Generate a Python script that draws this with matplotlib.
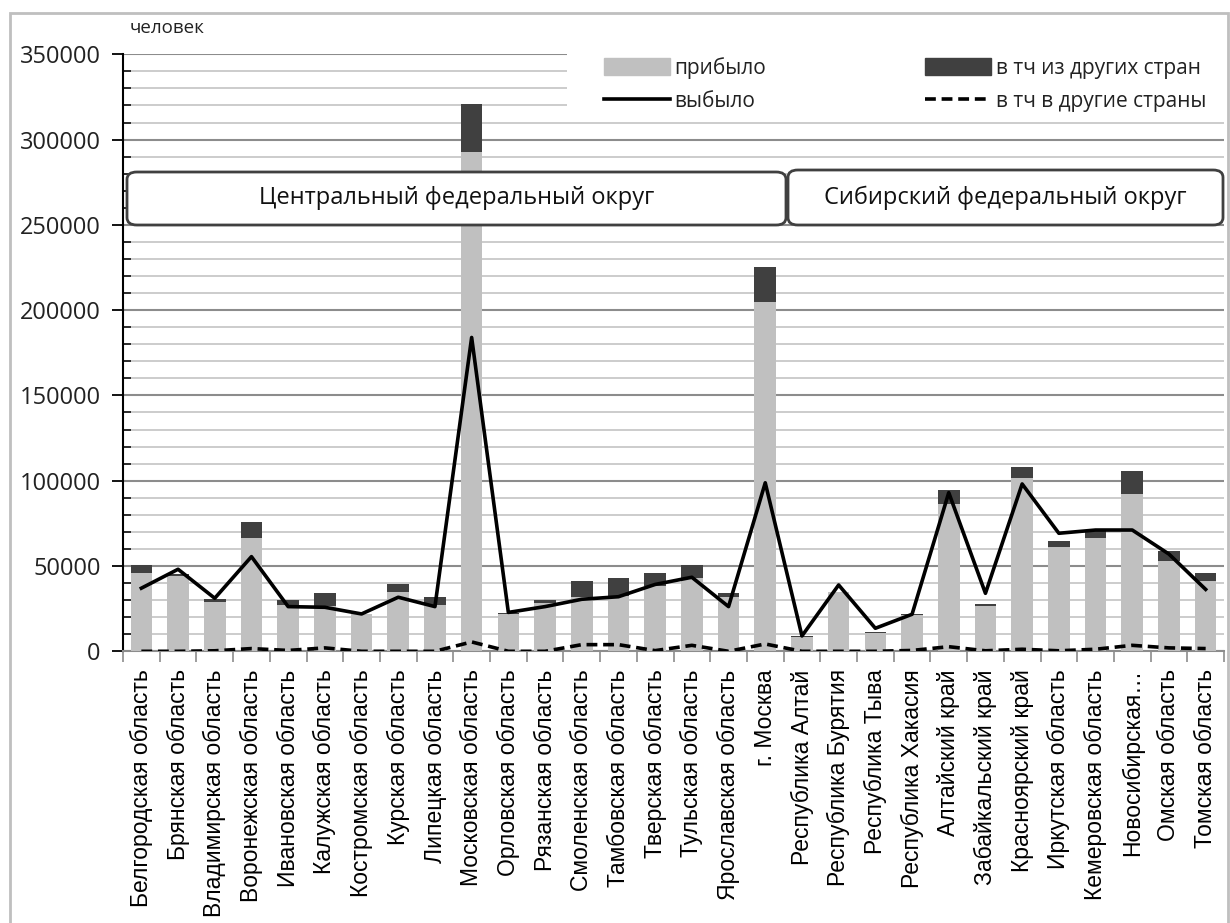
"""
Migration by region: arrived (stacked with the part from other countries),
departed (solid) and departed abroad (dashed), Central and Siberian okrugs.
"""
import numpy as np
import matplotlib
matplotlib.use("Agg")
import matplotlib.pyplot as plt
import matplotlib.patches as mpatches
import matplotlib.lines as mlines
import matplotlib.ticker as mticker

regions = [
    "Белгородская область", "Брянская область", "Владимирская область",
    "Воронежская область", "Ивановская область", "Калужская область",
    "Костромская область", "Курская область", "Липецкая область",
    "Московская область", "Орловская область", "Рязанская область",
    "Смоленская область", "Тамбовская область", "Тверская область",
    "Тульская область", "Ярославская область", "г. Москва",
    "Республика Алтай", "Республика Бурятия", "Республика Тыва",
    "Республика Хакасия", "Алтайский край", "Забайкальский край",
    "Красноярский край", "Иркутская область", "Кемеровская область",
    "Новосибирская…", "Омская область", "Томская область",
]
arrived = [46000, 44000, 29100, 66400, 27100, 26700, 21900, 34900, 27300,
           292700, 21900, 28100, 32000, 32400, 38200, 42800, 31800, 204800,
           8500, 35000, 10500, 21300, 86400, 26600, 101600, 61100, 66600,
           92200, 53100, 41400]
from_abroad = [4600, 1500, 1600, 9400, 3000, 7500, 0, 4600, 4500,
               28200, 300, 2000, 9200, 10800, 7900, 7800, 2400, 20500,
               500, 0, 700, 600, 8200, 1000, 6400, 3600, 4100,
               13500, 5700, 4700]
departed = [37000, 48100, 31100, 55500, 26200, 25800, 21900, 31700, 26200,
            184000, 22800, 26200, 30500, 32000, 39200, 43400, 26200, 98800,
            9000, 38900, 13500, 21700, 93000, 34000, 98100, 69200, 71100,
            71100, 57000, 36300]
departed_abroad = [0, 0, 300, 1600, 500, 2000, 0, 0, 0, 5500, 0, 0, 3900,
                   3900, 400, 3500, 0, 4300, 0, 0, 0, 500, 2700, 300, 1200,
                   300, 1200, 3500, 2000, 1600]
okrugs = ["Центральный федеральный округ", "Сибирский федеральный округ"]

W, H = 1230, 923
font = ["Open Sans", "DejaVu Sans"]
cat_font = ["Liberation Sans", "DejaVu Sans"]
light, dark = "#c0c0c0", "#404040"

fig = plt.figure(figsize=(W / 100, H / 100), dpi=100)
ax = fig.add_axes([123 / W, 1 - 651.3 / H, (1224 - 123) / W, (651.3 - 54.3) / H])

x = np.arange(len(regions))
ax.bar(x, arrived, width=0.59, color=light, zorder=3)
ax.bar(x, from_abroad, width=0.59, bottom=arrived, color=dark, zorder=3)
ax.plot(x, departed, color="black", lw=2.6, zorder=4)
ax.plot(x, departed_abroad, color="black", lw=2.6, dashes=(3, 1.6), zorder=4)

ax.set_xlim(-0.5, len(regions) - 0.5)
ax.set_ylim(0, 350000)
ax.yaxis.set_major_locator(mticker.MultipleLocator(50000))
ax.yaxis.set_minor_locator(mticker.MultipleLocator(10000))
ax.yaxis.set_major_formatter(mticker.FuncFormatter(lambda v, p: f"{int(v)}"))
ax.grid(which="minor", axis="y", color="#c4c4c4", lw=1.2, zorder=0)
ax.grid(which="major", axis="y", color="#8c8c8c", lw=1.5, zorder=0)
ax.tick_params(axis="y", which="major", direction="out", length=8, width=1.3,
               pad=8, labelsize=17)
ax.tick_params(axis="y", which="minor", direction="in", length=6, width=1.1)
for lab in ax.get_yticklabels():
    lab.set_family(font)
    lab.set_color("#222222")

ax.set_xticks(x)
ax.set_xticklabels(regions, rotation=90, family=cat_font, fontsize=16.5,
                   va="top", ha="center")
ax.set_xticks(np.arange(-0.5, len(regions)), minor=True)
ax.tick_params(axis="x", which="major", length=0, pad=13)
ax.tick_params(axis="x", which="minor", direction="out", length=8,
               width=1.2, color="#8c8c8c")

for s in ["top", "right"]:
    ax.spines[s].set_visible(False)
ax.spines["left"].set_linewidth(1.5)
ax.spines["bottom"].set_color("#8c8c8c")
ax.spines["bottom"].set_linewidth(1.5)

# white backing behind the legend
ax.add_patch(mpatches.Rectangle((11.6, 314000), 18.0, 50000, facecolor="white",
                                edgecolor="none", zorder=2.5, clip_on=False))

handles = [
    mpatches.Patch(color=light, label="прибыло"),
    mpatches.Patch(color=dark, label="в тч из других стран"),
    mlines.Line2D([], [], color="black", lw=2.6, label="выбыло"),
    mlines.Line2D([], [], color="black", lw=2.6, dashes=(3, 1.6),
                  label="в тч в другие страны"),
]
leg = fig.legend(handles=[handles[0], handles[2], handles[1], handles[3]],
                 ncol=2, loc="upper left", bbox_to_anchor=(585 / W, 1 - 38 / H),
                 frameon=False, prop={"family": font, "size": 15},
                 handlelength=3.2, handleheight=0.9, handletextpad=0.2,
                 columnspacing=7.6, labelspacing=0.6)
for t in leg.get_texts():
    t.set_color("#222222")

fig.text(130 / W, 1 - 28 / H, "человек", family=font, fontsize=13.5,
         va="center", ha="left", color="#222222")

# okrug boxes
boxes = [(127, 172, 786, 225), (788, 170, 1223, 225)]
for (x0, y0, x1, y1), name in zip(boxes, okrugs):
    fig.patches.append(mpatches.FancyBboxPatch(
        (x0 / W, 1 - y1 / H), (x1 - x0) / W, (y1 - y0) / H,
        boxstyle="round,pad=0,rounding_size=0.008", transform=fig.transFigure,
        facecolor="white", edgecolor="#404040", lw=2, zorder=5))
    fig.text((x0 + x1) / 2 / W, 1 - (y0 + y1) / 2 / H, name, family=font,
             fontsize=17, ha="center", va="center", color="#111111", zorder=6)

# chart area border
fig.patches.append(mpatches.Rectangle((10 / W, -0.01), 1218 / W, 1 - 13 / H + 0.01,
                                      transform=fig.transFigure, fill=False,
                                      edgecolor="#bfbfbf", lw=2, zorder=0))

fig.savefig("out.png", dpi=100)
